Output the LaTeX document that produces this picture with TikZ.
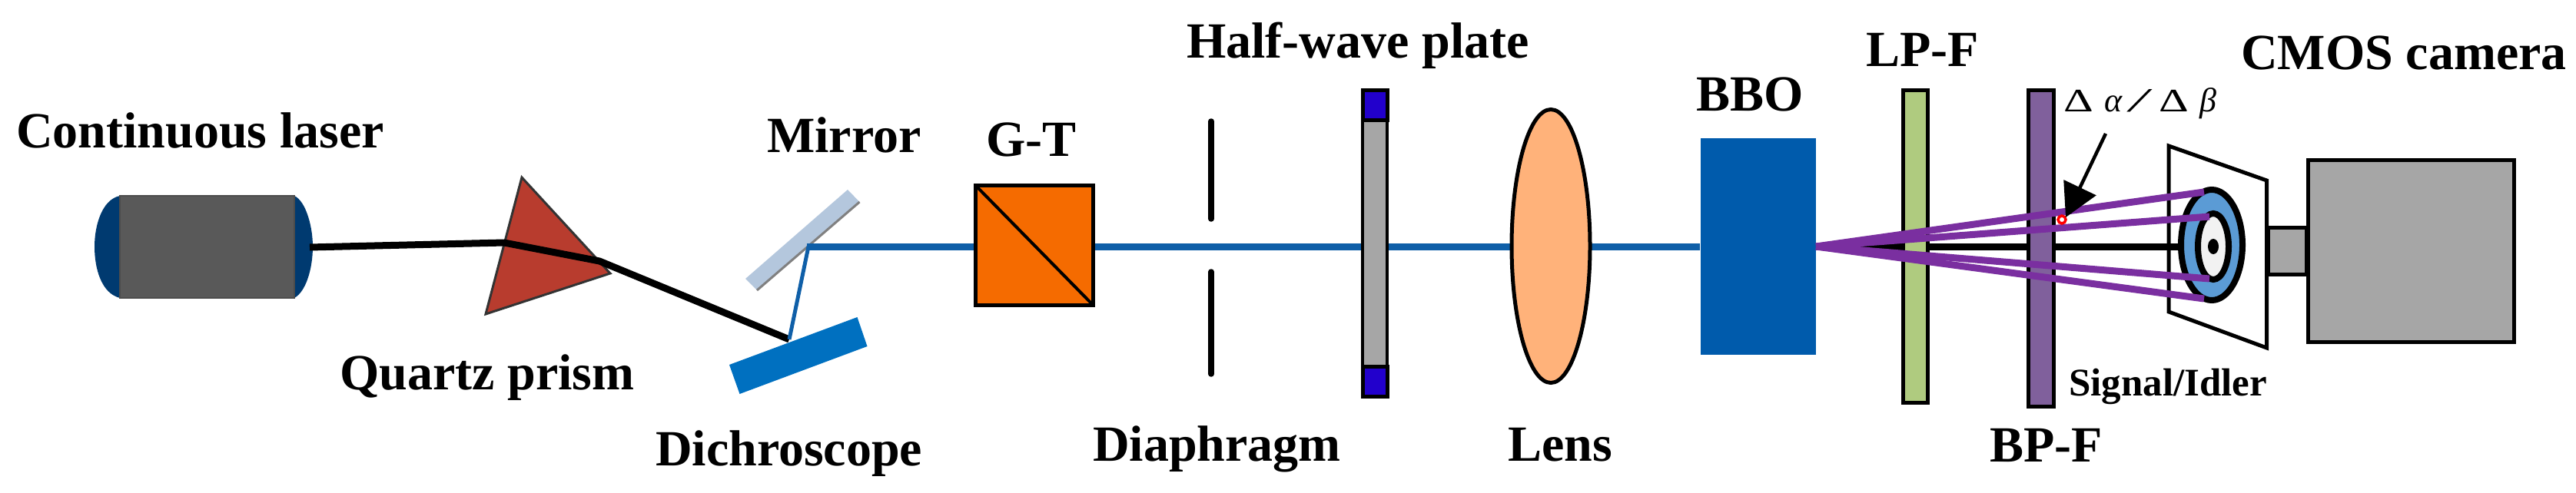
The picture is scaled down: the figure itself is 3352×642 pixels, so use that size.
\documentclass[tikz,border=0pt]{standalone}
\usepackage{fontspec}
\usepackage{graphicx}
\setmainfont{Liberation Serif}
\usetikzlibrary{arrows.meta}
\definecolor{capblue}{HTML}{003A70}
\definecolor{bodygray}{HTML}{595959}
\definecolor{prismred}{HTML}{B83C2E}
\definecolor{mirrorblue}{HTML}{B4C7DD}
\definecolor{dichroblue}{HTML}{0070C0}
\definecolor{beamblue}{HTML}{0F5FA8}
\definecolor{gtorange}{HTML}{F56B00}
\definecolor{plateblue}{HTML}{2200CC}
\definecolor{plategray}{HTML}{A6A6A6}
\definecolor{lensorange}{HTML}{FFB27A}
\definecolor{bboblue}{HTML}{005BAC}
\definecolor{lpgreen}{HTML}{AFCB7F}
\definecolor{bppurple}{HTML}{80609C}
\definecolor{raypurple}{HTML}{7A2FA0}
\definecolor{ringblue}{HTML}{5B9BD5}
\definecolor{ringwhite}{HTML}{F2F2F2}
\tikzset{
  lbl/.style={anchor=base west,inner sep=0pt,font=\fontsize{66}{70}\selectfont\bfseries},
  smalllbl/.style={anchor=base west,inner sep=0pt,font=\fontsize{51}{55}\selectfont\bfseries},
  deltalbl/.style={anchor=base west,inner sep=0pt,font=\fontsize{44}{50}\selectfont},
  blackbeam/.style={draw=black,line width=9pt},
  bluebeam/.style={draw=beamblue,line width=9pt},
  ray/.style={draw=raypurple,line width=9pt},
  optic/.style={draw=black,line width=5pt},
}
\newcommand{\wideDelta}{\scalebox{1.37}[0.97]{Δ}}
\begin{document}
\begin{tikzpicture}[x=1pt,y=-1pt]
\useasboundingbox (0,0) rectangle (3352,642);
% beam waypoints
\coordinate (laserout) at (403,322);
\coordinate (prismin) at (656,316);
\coordinate (prismout) at (780,340);
\coordinate (dichro) at (1027,442);
\coordinate (mirrorpt) at (1052,321);
\coordinate (bboin) at (2212,321);
\coordinate (src) at (2363,321);
\coordinate (ringleft) at (2835,321);
\coordinate (r1) at (2868,250);
\coordinate (r2) at (2875,282);
\coordinate (r3) at (2875,363);
\coordinate (r4) at (2868,389);
\coordinate (arrowstart) at (2740,174);
\coordinate (arrowtip) at (2688,283);
% laser
\fill[capblue] (156,255) .. controls (132,260) and (123,295) .. (123,321) .. controls (123,350) and (132,382) .. (156,388) -- cycle;
\fill[capblue] (383,255) .. controls (398,262) and (407,295) .. (407,321) .. controls (407,350) and (398,380) .. (383,388) -- cycle;
\path[fill=bodygray,draw=black!70,line width=1.5pt] (156,255) rectangle (383,388);
% prism
\path[fill=prismred,draw=black!80,line width=3pt,line join=miter] (679,231) -- (794,356) -- (632,409) -- cycle;
% mirror and dichroscope
\fill[mirrorblue] (1103,247) -- (1118.5,263) -- (985,378) -- (970,363) -- cycle;
\draw[gray,line width=3pt] (1118.5,263) -- (985,378);
\fill[dichroblue] (1115.5,413) -- (1128.5,451) -- (962.5,513) -- (949,475) -- cycle;
% beams
\draw[blackbeam,line join=round] (laserout) -- (prismin) -- (prismout) -- (dichro);
\draw[draw=beamblue,line width=5pt] (dichro) -- (mirrorpt);
\draw[bluebeam] ([xshift=-2pt]mirrorpt) -- (bboin);
% G-T
\path[fill=gtorange,draw=black,line width=5pt] (1269,241) rectangle (1422,397);
\draw[black,line width=4pt] (1269,241) -- (1422,397);
% diaphragm
\draw[black,line width=7.5pt,line cap=round] (1576,158) -- (1576,285);
\draw[black,line width=7.5pt,line cap=round] (1576,354) -- (1576,487);
% half-wave plate
\path[fill=plategray] (1771,156) rectangle (1807,477);
\path[fill=plateblue,draw=black,line width=5pt] (1773,117) rectangle (1805,156);
\path[fill=plateblue,draw=black,line width=5pt] (1773,477) rectangle (1805,516);
\draw[black,line width=4pt] (1773,117) -- (1773,516) (1805,117) -- (1805,516);
% lens
\path[fill=lensorange,draw=black,line width=5pt] (2018,320.5) ellipse [x radius=51,y radius=178];
% BBO
\fill[bboblue] (2212.5,180) rectangle (2363,462);
% centre line
\draw[blackbeam] (src) -- (2840,321);
% screen
\path[fill=white,draw=black,line width=5pt,line join=miter] (2822,190) -- (2949.5,235) -- (2949.5,453) -- (2822,406) -- cycle;
\draw[black,line width=9pt] (2815,321) -- (ringleft);
% filters
\path[fill=lpgreen,draw=black,line width=5pt] (2476,117) rectangle (2508,524);
\path[fill=bppurple,draw=black,line width=5pt] (2639,117) rectangle (2672,529);
% camera
\path[fill=plategray,draw=black,line width=5pt] (2951,296) rectangle (3001,357);
\path[fill=plategray,draw=black,line width=5pt] (3003,208) rectangle (3271,445);
% rings
\path[fill=ringblue,draw=black,line width=8pt] (2878,319) ellipse [x radius=40,y radius=72];
\path[fill=ringwhite,draw=black,line width=8pt] (2880,321) ellipse [x radius=20,y radius=43];
\fill[black] (2880,321) ellipse [x radius=7,y radius=10];
% rays
\draw[ray] (src) -- (r1);
\draw[ray] (src) -- (r2);
\draw[ray] (src) -- (r3);
\draw[ray] (src) -- (r4);
% marker and arrow
\draw[red,line width=3.5pt,fill=white] (2683,286) circle [radius=5];
\draw[black,line width=4.5pt,-{Triangle[length=43pt,width=46pt]}] (arrowstart) -- (arrowtip);
% labels
\node[lbl] (tlaser) at (21,192.5) {Continuous laser};
\node[lbl] (tmirror) at (998,198.5) {Mirror};
\node[lbl] (tprism) at (442,507) {Quartz prism};
\node[lbl] (tdichro) at (853,606) {Dichroscope};
\node[lbl] (tgt) at (1283,203) {G-T};
\node[lbl] (thalf) at (1544,76) {Half-wave plate};
\node[lbl] (tdia) at (1422,600) {Diaphragm};
\node[lbl] (tlens) at (1962,600) {Lens};
\node[lbl] (tbbo) at (2207,144) {BBO};
\node[lbl] (tlp) at (2428,86) {LP-F};
\node[lbl] (tcmos) at (2916,90) {CMOS camera};
\node[lbl] (tbp) at (2589,601) {BP-F};
\node[smalllbl] (tsig) at (2692,515) {Signal/Idler};
\node[deltalbl] (tdelta) at (2685,145) {\wideDelta\hspace{15pt}\textit{α}\hspace{9pt}\scalebox{1.9}[1]{\textit{/}}\hspace{8pt}\wideDelta\hspace{14pt}\textit{β}};
\end{tikzpicture}
\end{document}
